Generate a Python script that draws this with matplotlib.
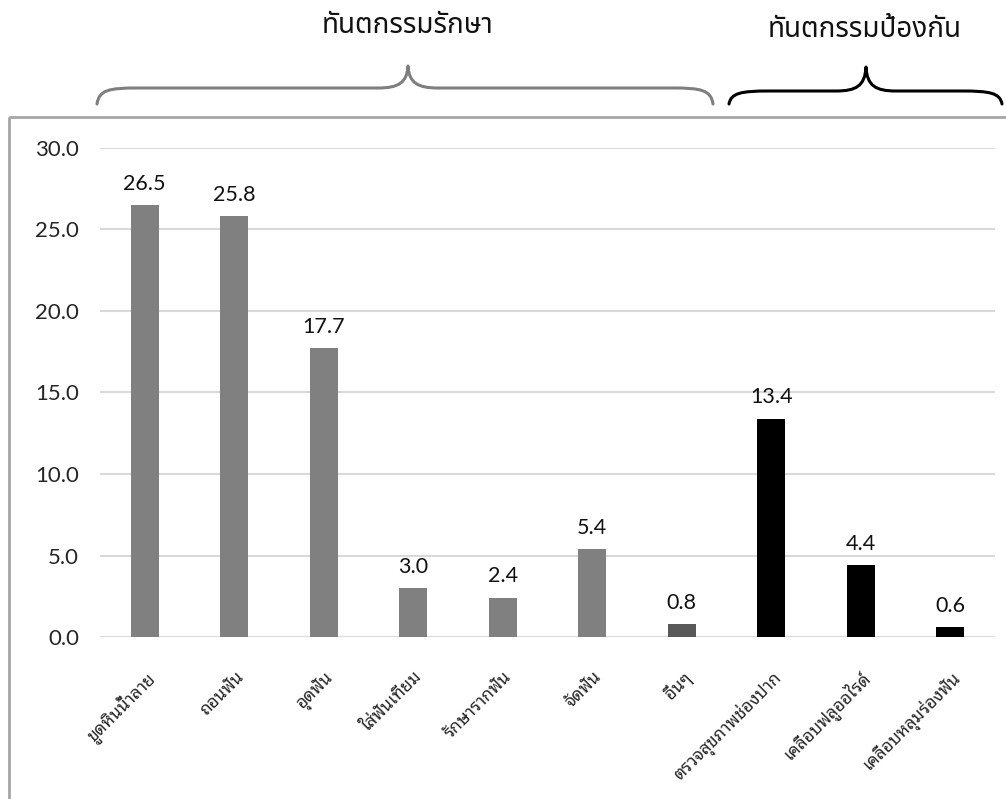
import matplotlib
matplotlib.use('Agg')
import matplotlib.pyplot as plt
from matplotlib.path import Path
from matplotlib.patches import PathPatch, Rectangle

# ร้อยละของผู้รับบริการแต่ละประเภท
labels = ['ขูดหินน้ำลาย', 'ถอนฟัน', 'อุดฟัน', 'ใส่ฟันเทียม', 'รักษารากฟัน',
          'จัดฟัน', 'อื่นๆ', 'ตรวจสุขภาพช่องปาก', 'เคลือบฟลูออไรด์', 'เคลือบหลุมร่องฟัน']
values = [26.5, 25.8, 17.7, 3.0, 2.4, 5.4, 0.8, 13.4, 4.4, 0.6]
colors = ['#808080'] * 6 + ['#595959'] + ['#000000'] * 3
group_names = ['ทันตกรรมรักษา', 'ทันตกรรมป้องกัน']
yticks = [0, 5, 10, 15, 20, 25, 30]

thai_tick = ['Noto Sans Thai Looped', 'DejaVu Sans']
thai_head = ['Noto Sans Thai', 'DejaVu Sans']
num_font = ['Lato', 'DejaVu Sans']

W, H = 1006, 799
fig = plt.figure(figsize=(W / 100, H / 100), dpi=100)
ax = fig.add_axes([100 / W, 1 - 637 / H, 895 / W, 489 / H])

x = list(range(len(values)))
bars = ax.bar(x, values, width=0.31, color=colors, zorder=3)
for b, v in zip(bars, values):
    ax.text(b.get_x() + b.get_width() / 2, v + 0.7, f'{v:.1f}', ha='center', va='bottom',
            fontsize=15.5, family=num_font, color='#111111')

ax.set_xlim(-0.5, len(values) - 0.5)
ax.set_ylim(0, 30)
ax.set_yticks(yticks)
ax.set_yticklabels([f'{t:.1f}' for t in yticks], family=num_font, fontsize=16, color='#262626')
ax.set_xticks(x)
ax.set_xticklabels(labels, rotation=45, ha='right', rotation_mode='anchor',
                   family=thai_tick, fontsize=12.5, color='#262626')
ax.tick_params(axis='both', length=0)
ax.tick_params(axis='y', pad=15)
ax.tick_params(axis='x', pad=22)
ax.grid(axis='y', color='#d9d9d9', linewidth=1.5, zorder=0)
for s in ax.spines.values():
    s.set_visible(False)

# แผ่นภาพซ้อนสำหรับกรอบ วงเล็บปีกกา และหัวข้อกลุ่ม
ov = fig.add_axes([0, 0, 1, 1], zorder=-1)
ov.set_xlim(0, W)
ov.set_ylim(H, 0)
ov.axis('off')
ov.add_patch(Rectangle((9, 117), W + 20, H, fill=False, edgecolor='#a6a6a6', linewidth=2))


def brace(x0, x1, xm, y_end, y_line, y_tip, color):
    r = 40
    c = 30
    verts = [(x0, y_end),
             (x0 + 2, y_line + 2), (x0 + 12, y_line), (x0 + r, y_line),
             (xm - c, y_line),
             (xm - 10, y_line), (xm - 1, y_line - 5), (xm, y_tip),
             (xm + 1, y_line - 5), (xm + 10, y_line), (xm + c, y_line),
             (x1 - r, y_line),
             (x1 - 12, y_line), (x1 - 2, y_line + 2), (x1, y_end)]
    codes = [Path.MOVETO,
             Path.CURVE4, Path.CURVE4, Path.CURVE4,
             Path.LINETO,
             Path.CURVE4, Path.CURVE4, Path.CURVE4,
             Path.CURVE4, Path.CURVE4, Path.CURVE4,
             Path.LINETO,
             Path.CURVE4, Path.CURVE4, Path.CURVE4]
    ov.add_patch(PathPatch(Path(verts, codes), fill=False, edgecolor=color, linewidth=2.2,
                           capstyle='round', joinstyle='round'))


brace(97, 713, 408, 104, 88, 66, '#7f7f7f')
brace(729, 1002, 866, 104, 91, 67, '#000000')

ov.text(408, 26, group_names[0], ha='center', va='center', fontsize=20, family=thai_head,
        color='#111111')
ov.text(865, 30, group_names[1], ha='center', va='center', fontsize=20, family=thai_head,
        color='#111111')

fig.savefig('out.png', dpi=100)
